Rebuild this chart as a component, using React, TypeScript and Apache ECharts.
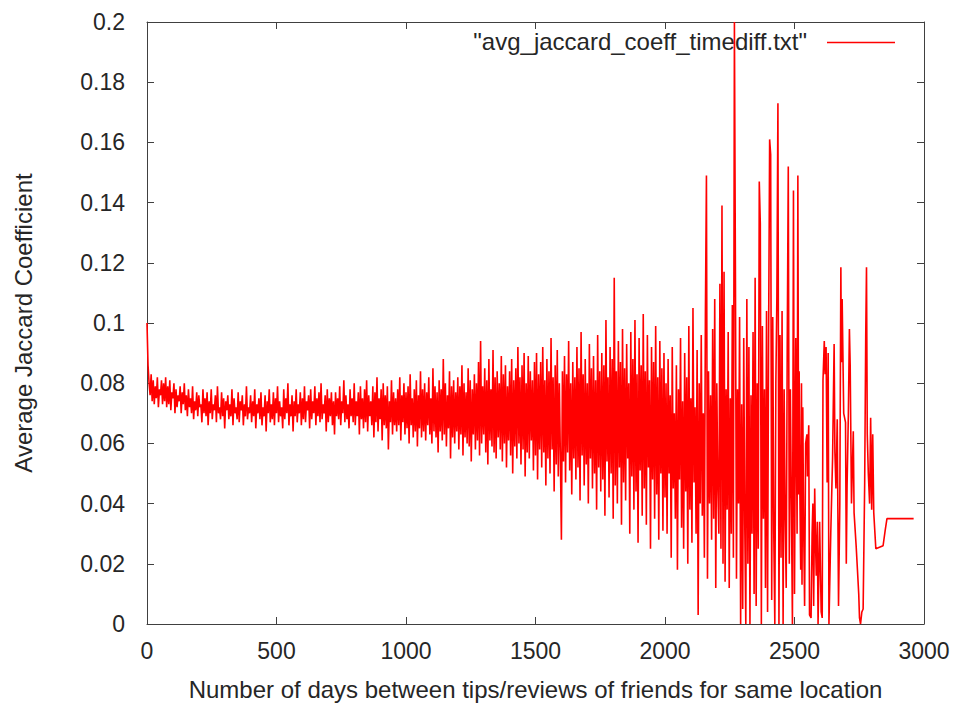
import React, { useEffect, useRef } from "react";
import * as echarts from "echarts";

// Average Jaccard coefficient (x1000) for days 0..2496, read every 4 days
const denseStep = 4;
const denseMilli = [
  100, 86, 80, 76, 83, 74, 81, 73, 79, 75, 82, 72, 78, 76, 81, 73, 80, 74, 82, 72,
  79, 73, 81, 71, 77, 75, 80, 70, 78, 72, 76, 74, 79, 70, 77, 73, 80, 71, 76, 69,
  78, 72, 75, 70, 79, 68, 74, 71, 77, 69, 76, 72, 73, 67, 78, 70, 75, 69, 77, 66,
  74, 70, 78, 68, 73, 71, 76, 67, 79, 70, 72, 68, 77, 69, 75, 65, 74, 71, 76, 68,
  73, 69, 78, 66, 75, 70, 72, 68, 77, 67, 74, 71, 76, 66, 73, 69, 79, 68, 72, 70,
  76, 67, 74, 69, 78, 65, 73, 70, 75, 68, 77, 66, 72, 69, 76, 64, 74, 70, 78, 67,
  73, 68, 77, 66, 75, 70, 79, 67, 74, 69, 72, 65, 78, 68, 75, 70, 80, 66, 73, 69,
  76, 64, 74, 69, 78, 67, 73, 70, 77, 66, 75, 68, 79, 67, 74, 71, 76, 65, 78, 68,
  74, 70, 79, 66, 75, 69, 77, 67, 80, 68, 73, 70, 76, 64, 78, 67, 75, 69, 77, 66,
  74, 63, 77, 69, 75, 68, 79, 66, 74, 70, 81, 67, 76, 68, 73, 65, 78, 69, 75, 67,
  80, 66, 74, 69, 77, 63, 79, 68, 75, 65, 78, 67, 81, 64, 76, 69, 74, 66, 79, 62,
  77, 67, 82, 64, 75, 68, 78, 61, 80, 66, 76, 65, 79, 58, 74, 67, 81, 63, 77, 66,
  75, 64, 78, 66, 82, 61, 76, 67, 80, 63, 77, 65, 79, 60, 83, 66, 75, 62, 78, 64,
  81, 59, 76, 65, 84, 62, 78, 64, 80, 61, 77, 66, 82, 63, 75, 60, 85, 64, 79, 62,
  77, 57, 81, 64, 78, 61, 88, 63, 80, 59, 76, 65, 84, 55, 79, 62, 81, 60, 77, 64,
  82, 58, 79, 63, 86, 56, 80, 62, 77, 60, 85, 59, 81, 54, 78, 63, 83, 58, 80, 61,
  87, 56, 94, 60, 79, 63, 85, 57, 81, 53, 88, 61, 78, 59, 91, 57, 82, 55, 84, 62,
  80, 58, 89, 54, 83, 60, 86, 52, 79, 61, 84, 56, 88, 50, 81, 59, 85, 55, 92, 60,
  82, 53, 86, 58, 90, 49, 80, 57, 89, 55, 84, 61, 81, 51, 87, 56, 90, 48, 83, 58,
  87, 52, 92, 57, 81, 46, 88, 55, 84, 50, 95, 58, 82, 44, 86, 53, 91, 49, 80, 56,
  28, 84, 54, 89, 47, 83, 57, 94, 51, 80, 43, 87, 55, 82, 48, 92, 52, 85, 41, 97,
  56, 83, 46, 88, 53, 80, 40, 93, 55, 85, 45, 89, 50, 81, 38, 96, 52, 84, 44, 90,
  48, 86, 36, 101, 54, 82, 42, 92, 50, 88, 35, 115, 46, 84, 40, 94, 52, 87, 33, 98,
  47, 85, 41, 93, 55, 80, 30, 97, 49, 88, 38, 101, 44, 83, 27, 95, 51, 86, 36, 103,
  45, 84, 33, 96, 52, 81, 25, 92, 48, 87, 35, 99, 43, 82, 28, 94, 50, 85, 31, 90,
  42, 80, 30, 88, 50, 76, 22, 92, 45, 70, 35, 86, 18, 78, 48, 95, 32, 74, 25, 90,
  44, 82, 20, 99, 38, 75, 27, 105, 47, 72, 30, 91, 3, 80, 40, 96, 36, 70, 22, 103,
  149, 15, 84, 40, 76, 28, 98, 35, 108, 12, 80, 45, 30, 113, 25, 139, 20, 117, 14, 78,
  38, 97, 12, 75, 30, 106, 22, 200, 114, 15, 78, 40, 102, 0, 73, 5, 95, 33, 0, 108,
  20, 92, 0, 76, 30, 97, 10, 115, 6, 80, 25, 147, 133, 0, 99, 35, 78, 12, 104, 4,
  95, 161, 156, 8, 102, 30, 0, 80, 109, 173, 0, 96, 22, 104, 0, 78, 35, 12, 93, 152,
  20, 78, 40, 0, 144,
];

// Sparse tail, days 2500..2960 (values x1000)
const tailDays = [
  2500, 2505, 2510, 2513, 2516, 2518, 2521, 2524, 2527, 2529,
  2532, 2535, 2539, 2543, 2548, 2550, 2555, 2558, 2564, 2568,
  2571, 2574, 2578, 2581, 2584, 2588, 2591, 2597, 2603, 2607,
  2610, 2615, 2618, 2622, 2626, 2630, 2633, 2640, 2647, 2653,
  2656, 2660, 2665, 2670, 2675, 2679, 2681, 2684, 2690, 2697,
  2700, 2703, 2708, 2712, 2715, 2720, 2727, 2730, 2738, 2743,
  2748, 2751, 2755, 2760, 2765, 2771, 2775, 2778, 2781, 2785,
  2790, 2794, 2798, 2802, 2806, 2810, 2814, 2842, 2850, 2857,
  2960,
];
const tailMilli = [
  10, 95, 30, 149, 43, 84, 42, 18, 80, 13,
  72, 35, 6, 60, 63, 49, 66, 3, 2, 30,
  40, 6, 45, 28, 16, 34, 0, 34, 4, 2,
  81, 94, 83, 92, 47, 90, 0, 30, 55, 93,
  57, 45, 68, 6, 40, 118.5, 87, 108, 70, 67,
  20, 46, 70, 98, 86, 40, 64, 37, 26, 18,
  10, 2, 0, 4, 5, 47, 95.5, 118.5, 63, 50,
  40, 68.5, 38, 63, 37, 31, 25, 26, 31, 35,
  35,
];

const seriesName = '"avg_jaccard_coeff_timediff.txt"';
const xTitle = "Number of days between tips/reviews of friends for same location";
const yTitle = "Average Jaccard Coefficient";

const FONT = "'Liberation Sans', Arial, sans-serif";
const TEXT = "#262626";
const FRAME = "#404040";

export default function App() {
  const ref = useRef<HTMLDivElement>(null);
  useEffect(() => {
    if (!ref.current) return;
    const chart = echarts.init(ref.current, undefined, { renderer: "svg" });
    const data: [number, number][] = [];
    denseMilli.forEach((v, i) => data.push([i * denseStep, v / 1000]));
    tailMilli.forEach((v, i) => data.push([tailDays[i], v / 1000]));

    const axisCommon = {
      axisLine: { show: true, onZero: false, lineStyle: { color: FRAME, width: 1 } },
      axisTick: { show: true, inside: true, length: 7, lineStyle: { color: FRAME, width: 1 } },
      splitLine: { show: false },
    };

    chart.setOption({
      animation: false,
      backgroundColor: "#ffffff",
      grid: { left: 147, right: 29, top: 22, bottom: 81, containLabel: false },
      xAxis: [
        {
          type: "value",
          min: 0,
          max: 3000,
          interval: 500,
          position: "bottom",
          ...axisCommon,
          axisLabel: {
            color: TEXT,
            fontSize: 23,
            fontFamily: FONT,
            margin: 15,
            formatter: (v: number) => String(v),
          },
          name: xTitle,
          nameLocation: "middle",
          nameGap: 53,
          nameTextStyle: { color: TEXT, fontSize: 24, fontFamily: FONT },
        },
        {
          type: "value",
          min: 0,
          max: 3000,
          interval: 500,
          position: "top",
          ...axisCommon,
          axisLabel: { show: false },
        },
      ],
      yAxis: [
        {
          type: "value",
          min: 0,
          max: 0.2,
          interval: 0.02,
          position: "left",
          ...axisCommon,
          axisLabel: {
            color: TEXT,
            fontSize: 23,
            fontFamily: FONT,
            margin: 22,
            formatter: (v: number) => String(+v.toFixed(2)),
          },
          name: yTitle,
          nameLocation: "middle",
          nameGap: 112,
          nameRotate: 90,
          nameTextStyle: { color: TEXT, fontSize: 24, fontFamily: FONT },
        },
        {
          type: "value",
          min: 0,
          max: 0.2,
          interval: 0.02,
          position: "right",
          ...axisCommon,
          axisLabel: { show: false },
        },
      ],
      series: [
        {
          name: seriesName,
          type: "line",
          xAxisIndex: 0,
          yAxisIndex: 0,
          data,
          showSymbol: false,
          symbol: "none",
          lineStyle: { color: "#ff0000", width: 1.6 },
          itemStyle: { color: "#ff0000" },
        },
      ],
      graphic: [
        {
          type: "text",
          x: 807,
          y: 41,
          style: {
            text: seriesName,
            align: "right",
            verticalAlign: "middle",
            fill: TEXT,
            font: `24px ${FONT}`,
          },
        },
        {
          type: "line",
          shape: { x1: 827, y1: 42.5, x2: 895, y2: 42.5 },
          style: { stroke: "#ff0000", lineWidth: 1.3 },
        },
      ],
    });
    return () => chart.dispose();
  }, []);
  return (
    <div
      ref={ref}
      style={{ position: "fixed", left: 0, top: 0, width: 953, height: 706, background: "#fff" }}
    />
  );
}
